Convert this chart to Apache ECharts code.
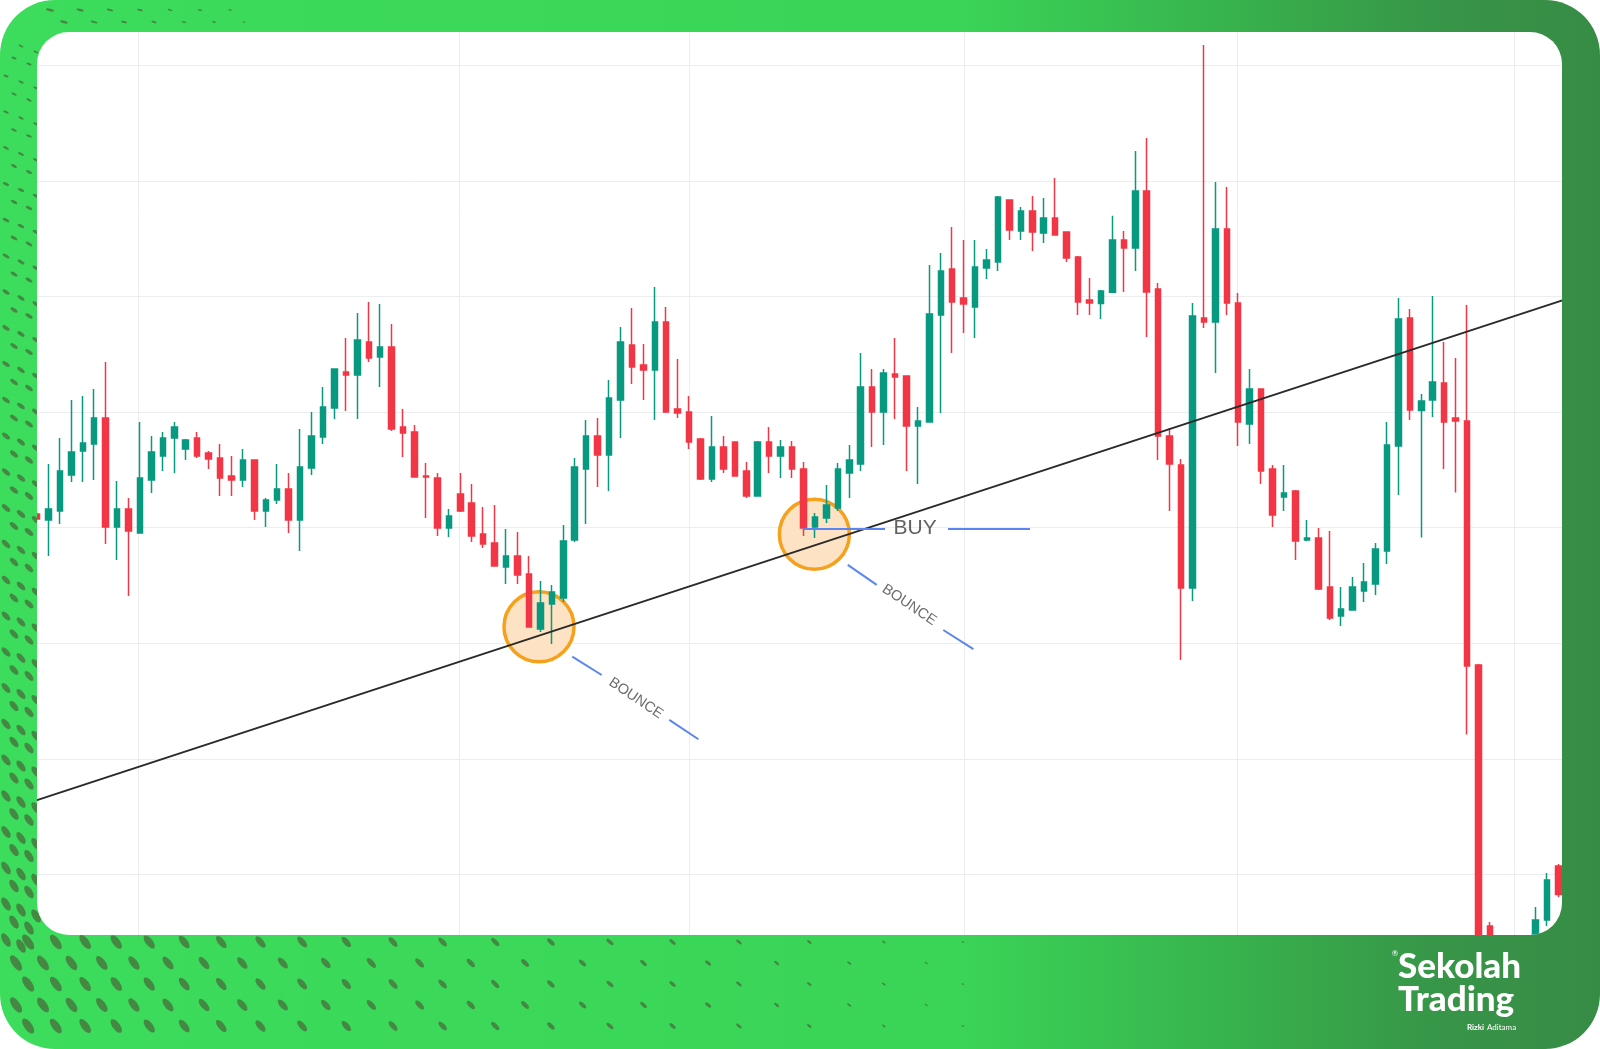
<!DOCTYPE html>
<html>
<head>
<meta charset="utf-8">
<script src="https://cdn.jsdelivr.net/npm/echarts/dist/echarts.min.js"></script>
<style>
html,body{margin:0;padding:0;background:#ffffff;width:1600px;height:1049px;overflow:hidden;}
#bg{position:absolute;left:0;top:0;width:1600px;height:1049px;}
#panel{position:absolute;left:37px;top:32px;width:1525px;height:903px;border-radius:32px;overflow:hidden;background:#ffffff;}
#chart{position:absolute;left:-37px;top:-92px;width:1600px;height:1120px;}
</style>
</head>
<body>
<div id="bg"></div>
<div id="panel"><div id="chart"></div></div>
<script>
// ---------- DATA (price units; one horizontal grid step = 10) ----------
const openP = [101.19,100.67,101.45,104.56,106.64,107.24,109.49,100.06,101.62,99.55,
104.13,106.21,107.76,106.81,107.76,106.47,106.03,104.48,104.13,105.86,
101.45,102.40,103.35,100.67,105.17,107.85,110.36,113.47,113.21,116.07,
114.77,115.63,108.71,108.28,104.48,104.30,99.98,102.92,102.14,99.46,
98.68,96.60,97.56,96.00,91.24,93.40,93.92,98.94,105.08,107.94,
106.29,111.05,115.81,114.08,113.64,117.80,110.27,110.01,107.68,104.22,
106.98,107.42,104.91,102.75,107.42,106.21,106.98,105.08,100.06,100.84,
101.71,104.74,105.51,112.17,110.01,113.30,113.13,108.80,109.15,118.40,
122.38,119.87,119.09,122.47,122.99,128.35,125.67,127.40,125.50,126.79,
125.58,123.42,119.70,119.40,120.36,124.89,124.20,129.13,120.65,107.94,
105.43,94.79,118.14,117.80,125.84,119.44,108.97,112.00,105.08,102.66,
103.18,98.94,99.11,94.87,92.37,92.89,94.53,95.13,97.99,107.07,
118.14,110.14,111.05,112.52,109.49,109.23,88.13,65.55,63.50,62.80,
63.90,62.50,66.07,70.74];
const closeP = [100.76,101.62,104.91,106.55,107.33,109.49,100.06,101.62,99.72,104.30,
106.55,107.76,108.71,107.59,106.21,105.95,104.30,104.13,105.86,101.45,
102.40,103.35,100.67,105.25,107.94,110.44,113.73,113.21,116.24,114.68,
115.63,108.54,108.20,104.39,104.39,99.98,101.02,101.45,99.29,98.59,
96.69,97.56,95.91,91.41,93.49,94.44,98.85,105.25,107.94,106.29,
111.22,116.07,113.90,113.64,117.80,110.01,109.93,107.42,104.22,106.98,
105.08,104.48,102.75,107.42,106.21,106.98,105.08,99.98,100.93,101.97,
105.08,105.86,112.17,110.01,113.39,113.04,108.80,109.23,118.49,122.21,
119.53,119.35,122.55,123.16,128.61,125.75,127.40,125.58,126.79,125.32,
123.33,119.53,119.44,120.48,124.89,124.20,129.13,120.39,107.94,105.51,
94.79,118.32,117.80,125.84,119.44,109.15,112.00,104.91,101.10,103.01,
98.85,99.11,94.70,92.19,92.97,94.87,95.31,98.16,107.16,118.06,
110.18,110.96,112.61,109.15,109.23,88.04,61.50,62.00,62.80,63.90,
63.20,66.07,69.53,68.28];
const lowP = [100.50,97.56,100.32,103.96,103.96,104.13,98.59,97.21,94.10,99.55,
103.01,104.91,104.74,105.86,106.03,105.08,102.75,102.75,103.52,100.67,
100.06,102.05,99.55,97.99,104.56,107.24,109.41,110.10,109.41,114.34,
112.17,108.37,106.12,104.39,100.84,99.29,99.20,101.36,98.77,98.25,
96.69,95.13,95.13,91.41,90.98,89.94,93.58,98.77,100.32,103.52,
103.18,107.76,112.43,111.05,109.32,109.93,109.49,106.81,104.13,103.96,
104.74,104.48,102.57,102.75,104.74,104.30,104.30,99.29,99.11,100.41,
101.45,102.57,104.91,106.98,107.16,109.41,104.91,103.78,109.15,109.93,
115.12,116.85,116.41,121.52,122.21,124.89,124.89,123.94,124.63,125.32,
122.99,118.40,118.40,118.06,120.36,120.39,122.21,116.50,105.86,101.45,
88.56,93.66,117.28,113.39,118.40,107.07,107.24,103.78,100.06,101.45,
97.21,98.85,94.62,92.02,91.50,92.89,93.58,94.18,96.86,102.83,
109.32,99.15,109.58,105.08,103.05,82.12,61.00,61.50,62.20,62.30,
62.50,62.00,65.55,68.06];
const highP = [101.45,105.51,107.76,111.05,111.40,112.00,114.34,104.04,102.57,109.15,
107.94,108.28,109.15,107.68,108.28,106.64,107.24,106.21,106.81,105.90,
102.57,105.51,104.74,108.54,110.01,112.17,113.80,116.41,118.58,119.53,
119.35,117.62,110.27,108.89,105.60,104.74,101.62,104.74,103.78,101.79,
101.97,99.89,99.63,97.56,95.39,95.05,100.24,106.03,109.32,109.49,
112.78,117.36,119.01,115.89,120.82,119.09,114.60,111.40,107.76,109.67,
107.94,107.45,105.69,107.50,108.71,107.59,107.50,105.69,101.28,103.70,
105.60,107.16,115.12,113.73,113.73,116.41,113.15,110.44,122.73,123.77,
126.01,124.89,124.89,124.11,128.70,128.40,127.74,128.70,128.52,130.25,
125.60,123.51,121.60,120.56,126.99,125.67,132.59,133.71,121.17,108.63,
105.95,119.44,141.76,129.91,129.47,120.31,113.73,112.05,105.43,105.43,
103.27,100.67,99.98,99.72,94.87,95.74,96.95,98.68,109.15,119.87,
118.92,111.57,120.05,116.07,114.68,119.27,88.20,65.90,64.20,64.40,
64.50,67.19,70.14,70.91];

// vertical (time) grid lines, in candle-index units
const timeGrid = [8.83, 36.89, 56.99, 81.03, 104.90, 129.11];
// support trend line end points [index, price]
const trendLine = [[-1, 76.11], [134, 119.88]];
// bounce circles [index, price]
const bounceCircles = [[43.88, 91.44], [67.95, 99.43]];
// annotation segments
const buySegments = [[[66.99, 99.95], [74.13, 99.95]], [[79.63, 99.95], [86.80, 99.95]]];
const bounceSegments = [
  [[46.79, 88.85], [49.36, 87.26]], [[55.27, 83.37], [57.81, 81.70]],
  [[70.87, 96.78], [73.40, 95.05]], [[79.22, 91.15], [81.85, 89.49]]
];
const labelTexts = ['BUY', 'BOUNCE', 'BOUNCE'];
const labelPoints = [[76.75, 99.97], [52.35, 85.24], [76.24, 93.32]];

// ---------- CHART ----------
const UP = '#089981', DOWN = '#F23645', GRID = '#ebedf1';
const candles = openP.map((o, i) => [i, o, closeP[i], lowP[i], highP[i]]);
const chart = echarts.init(document.getElementById('chart'), null, {renderer: 'canvas'});
chart.setOption({
  animation: false,
  grid: {left: 25.56, right: 30.0, top: 9.7, bottom: 69.9, containLabel: false, outerBoundsMode: 'none'},
  xAxis: {type: 'value', min: -1, max: 134, axisLine: {show: false}, axisTick: {show: false},
          axisLabel: {show: false}, splitLine: {show: false}},
  yAxis: {type: 'value', min: 60, max: 150, interval: 10, axisLine: {show: false}, axisTick: {show: false},
          axisLabel: {show: false}, splitLine: {show: true, lineStyle: {color: GRID, width: 1}}},
  series: [
    {type: 'lines', coordinateSystem: 'cartesian2d', z: 0, silent: true,
     data: timeGrid.map(v => ({coords: [[v, 60], [v, 150]]})),
     lineStyle: {color: GRID, width: 1, opacity: 1}},
    {type: 'scatter', z: 1, silent: true, data: bounceCircles, symbol: 'circle', symbolSize: 70,
     itemStyle: {color: '#fde3c3', borderColor: '#f5a11c', borderWidth: 3.5, opacity: 1}},
    {type: 'candlestick', z: 2, data: candles, barWidth: 6,
     itemStyle: {color: UP, color0: DOWN, borderColor: UP, borderColor0: DOWN, borderWidth: 1.5}},
    {type: 'line', z: 4, silent: true, data: trendLine, symbol: 'none',
     lineStyle: {color: '#2a2a2a', width: 2}},
    {type: 'lines', coordinateSystem: 'cartesian2d', z: 5, silent: true,
     data: buySegments.concat(bounceSegments).map(s => ({coords: s})),
     lineStyle: {color: '#5b86f2', width: 2, opacity: 1}},
    {type: 'scatter', z: 6, silent: true, symbolSize: 0,
     data: labelPoints.map((p, k) => ({
       value: p,
       label: k === 0
         ? {show: true, position: 'inside', formatter: labelTexts[k], fontSize: 21, color: '#3a3a3a',
            fontFamily: 'Liberation Sans, Arial, sans-serif'}
         : {show: true, position: 'inside', formatter: labelTexts[k], fontSize: 14.5, color: '#474747',
            rotate: -34, fontFamily: 'Liberation Sans, Arial, sans-serif'}
     }))}
  ]
});

// ---------- FRAME (background) ----------
const DOT = 'rgba(70,124,64,0.88)';
function inFrame(x, y) {
  const R = 55, W = 1600, H = 1049;
  const cx = x < R ? R : (x > W - R ? W - R : x);
  const cy = y < R ? R : (y > H - R ? H - R : y);
  return (x - cx) * (x - cx) + (y - cy) * (y - cy) <= (R - 5) * (R - 5);
}
const els = [];
els.push({type: 'rect', shape: {x: 0, y: 0, width: 1600, height: 1049, r: 55}, silent: true,
  style: {fill: new echarts.graphic.LinearGradient(0, 0, 1, 0, [
    {offset: 0, color: '#3cdc5c'}, {offset: 0.6, color: '#3ad457'},
    {offset: 0.78, color: '#37b04c'}, {offset: 0.9, color: '#379548'}, {offset: 1, color: '#378c45'}])}});
function addDot(x, y, minor, major, angDeg) {
  if (minor <= 0.3 || !inFrame(x, y)) return;
  els.push({type: 'circle', shape: {cx: 0, cy: 0, r: 1}, x: x, y: y, scaleX: minor, scaleY: major,
    rotation: angDeg * Math.PI / 180, style: {fill: DOT}, silent: true});
}
// left band
for (let r = 0; r < 52; r++) {
  for (let c = 0; c < 3; c++) {
    const x = 6 + c * 15 + (r % 2 ? 8 : 0);
    const y = 40 + r * 18 + c * 6;
    if (x > 36 || y > 950) continue;
    const t = (y - 40) / 900;
    addDot(x, y, 0.9 + 2.7 * t, 2.6 + 4.8 * t, 68 - 38 * t);
  }
}
// bottom band
for (let k = 0; k < 6; k++) {
  const y = 942 + k * 21;
  let x = (k % 2) ? 16 : 2;
  while (x < 1000) {
    const s = 1 - x / 980;
    addDot(x, y, 0.5 + 3.6 * s, 1.5 + 7.5 * s, 35 + 20 * (1 - s));
    x += 26 + 0.06 * x;
  }
}
// top band
for (let k = 0; k < 2; k++) {
  const y = 10 + k * 12;
  let x = 50 + (k % 2 ? 14 : 0);
  while (x < 260) {
    const s = 1 - (x - 40) / 240;
    addDot(x, y, 0.5 + 0.8 * s, 1.2 + 3 * s, 75);
    x += 30;
  }
}
els.push({type: 'text', x: 1395, y: 953, silent: true,
  style: {text: '®', fill: '#ffffff', font: '8px Lato', align: 'center', verticalAlign: 'middle'}});
els.push({type: 'text', x: 1398, y: 967, silent: true,
  style: {text: 'Sekolah', fill: '#ffffff', font: '900 35px Lato', align: 'left', verticalAlign: 'middle'}});
els.push({type: 'text', x: 1398, y: 1000, silent: true,
  style: {text: 'Trading', fill: '#ffffff', font: '900 35px Lato', align: 'left', verticalAlign: 'middle'}});
els.push({type: 'text', x: 1467, y: 1027, silent: true,
  style: {text: 'Rizki', fill: '#ffffff', font: 'bold 8px Lato', align: 'left', verticalAlign: 'middle'}});
els.push({type: 'text', x: 1487, y: 1027, silent: true,
  style: {text: 'Aditama', fill: '#ffffff', font: '8px Lato', align: 'left', verticalAlign: 'middle'}});
const bg = echarts.init(document.getElementById('bg'), null, {renderer: 'canvas'});
bg.setOption({animation: false, graphic: els});
</script>
</body>
</html>
